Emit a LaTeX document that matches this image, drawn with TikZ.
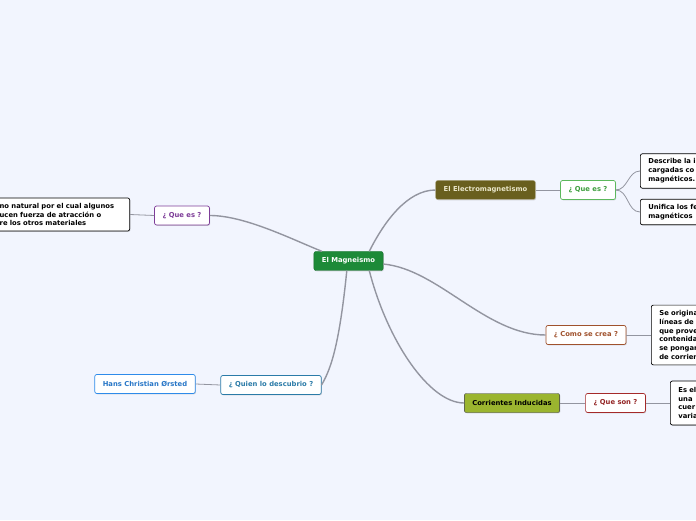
\documentclass[tikz,border=0pt]{standalone}
\usepackage{fontspec}
\setmainfont{DejaVu Sans}
\usetikzlibrary{shadows}

\definecolor{bgblue}{HTML}{F2F5FE}
\definecolor{linegray}{HTML}{9395A0}
\definecolor{rootgreen}{HTML}{1D8A38}
\definecolor{olive}{HTML}{695F1E}
\definecolor{olivetext}{HTML}{E9E6C9}
\definecolor{lime}{HTML}{9BB52F}
\definecolor{purp}{HTML}{7D3C98}
\definecolor{qgreen}{HTML}{5CB85C}
\definecolor{qgreentext}{HTML}{3E9E3E}
\definecolor{brown}{HTML}{A0522D}
\definecolor{dred}{HTML}{A52A2A}
\definecolor{dblue}{HTML}{2B7BA8}
\definecolor{bblue}{HTML}{2E8BEA}

\begin{document}
\begin{tikzpicture}[x=1pt, y=1pt,
    font=\fontsize{6.8}{8.9}\selectfont\bfseries,
    topic/.style={rectangle, rounded corners=2pt, minimum height=19pt, inner xsep=8pt,
        drop shadow={shadow xshift=0.8pt, shadow yshift=-0.8pt, opacity=0.3}},
    ask/.style={topic, fill=white, line width=0.7pt},
    info/.style={rectangle, rounded corners=2pt, draw=black, fill=white, line width=0.7pt,
        align=left, inner xsep=8pt, inner ysep=5pt,
        drop shadow={shadow xshift=0.8pt, shadow yshift=-0.8pt, opacity=0.3}},
    branch/.style={draw=linegray, line width=1.4pt},
    twig/.style={draw=linegray, line width=0.8pt}]
    \clip (0,0) rectangle (696,520);
    \fill[bgblue] (0,0) rectangle (696,520);

    % central topic
    \node[topic, fill=rootgreen, draw=rootgreen!80!black, text=white] (root) at (348.5,259) {El Magneismo};

    % left: definition
    \node[ask, draw=purp, text=purp] (qL) at (182,304.5) {¿ Que es ?};
    \node[info, text width=124pt, inner xsep=6pt, anchor=east] (defL) at (130,305.5)
        {no natural por el cual algunos\\ucen fuerza de atracción o\\re los otros materiales};

    % top right: electromagnetism
    \node[topic, fill=olive, draw=olive!50!white, text=olivetext] (elec) at (485.5,330) {El Electromagnetismo};
    \node[ask, draw=qgreen, text=qgreentext] (qE) at (588,330) {¿ Que es ?};
    \node[info, text width=80pt, anchor=west] (desc) at (640,349)
        {Describe la i\\cargadas co\\magnéticos.};
    \node[info, text width=80pt, anchor=west] (unif) at (640,308)
        {Unifica los fe\\magnéticos};

    % right: how it is made
    \node[ask, draw=brown, text=brown] (como) at (586,185) {¿ Como se crea ?};
    \node[info, text width=80pt, anchor=west] (orig) at (651,185)
        {Se origina\\líneas de\\que prove\\contenida\\se pongan\\de corrien};

    % bottom right: induced currents
    \node[topic, fill=lime, draw=black!80, text=black] (corr) at (512,117) {Corrientes Inducidas};
    \node[ask, draw=dred, text=dred!90!black] (qson) at (615.5,117) {¿ Que son ?};
    \node[info, text width=80pt, anchor=west, inner ysep=6pt] (esel) at (670,117)
        {Es el\\una\\cuer\\varia};

    % bottom left: discoverer
    \node[ask, draw=dblue, text=dblue] (quien) at (271,135) {¿ Quien lo descubrio ?};
    \node[ask, draw=bblue, text=bblue!85!black] (hans) at (145,136) {Hans Christian Ørsted};

    % branches from the central topic
    \draw[branch] (root.160) .. controls +(-30,12) and +(35,0) .. (qL.east);
    \draw[branch] (root.25) .. controls +(15,30) and +(-28,0) .. (elec.west);
    \draw[branch] (root.-5) .. controls +(55,-5) and +(-60,0) .. (como.west);
    \draw[branch] (root.-25) .. controls +(18,-70) and +(-35,0) .. (corr.west);
    \draw[branch] (root.-100) .. controls +(-8,-80) and +(8,14) .. (quien.east);

    % sub branches
    \draw[twig] (qL.west) -- (defL.east);
    \draw[twig] (elec.east) -- (qE.west);
    \draw[twig] (qE.east) to[out=0, in=180] (desc.west);
    \draw[twig] (qE.east) to[out=0, in=180] (unif.west);
    \draw[twig] (como.east) -- (orig.west);
    \draw[twig] (corr.east) -- (qson.west);
    \draw[twig] (qson.east) -- (esel.west);
    \draw[twig] (quien.west) -- (hans.east);
\end{tikzpicture}
\end{document}
